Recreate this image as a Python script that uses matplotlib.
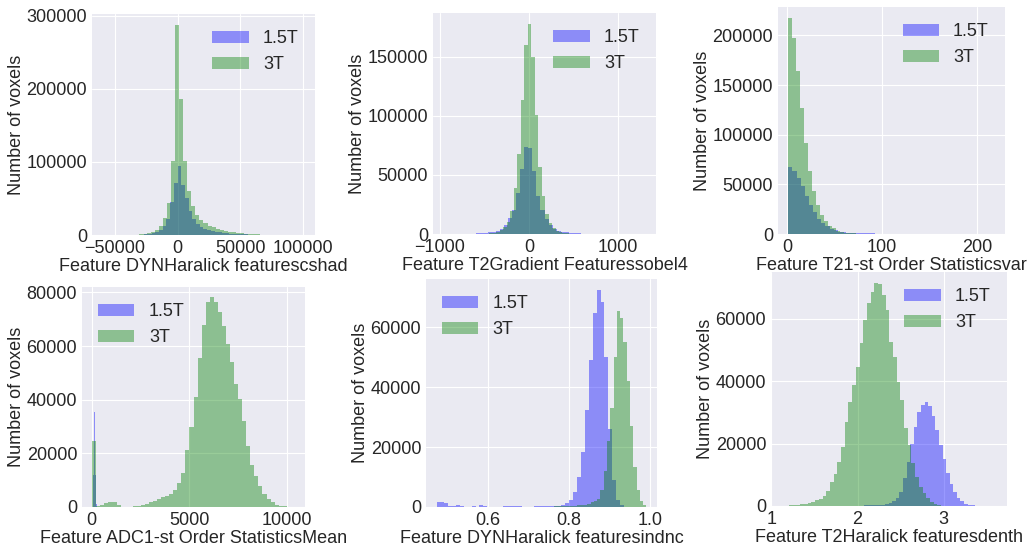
import matplotlib
matplotlib.use('Agg')
import matplotlib.pyplot as plt
import numpy as np

# Гистограммы признаков для 1.5T и 3T
series_labels = ['1.5T', '3T']

xlabels = ['Feature DYNHaralick featurescshad',
           'Feature T2Gradient Featuressobel4',
           'Feature T21-st Order Statisticsvar',
           'Feature ADC1-st Order StatisticsMean',
           'Feature DYNHaralick featuresindnc',
           'Feature T2Haralick featuresdenth']

# диапазоны значений (min, max) для каждой серии, 50 бинов
range_15 = [(-50000, 97000), (-962, 1310), (1.1, 218.9), (40, 300), (0.472, 0.955), (1.529, 3.609)]
range_3 = [(-60050, 101200), (-951, 999), (1.1, 211.1), (23, 10423), (0.585, 0.9913), (1.12, 3.27)]

cshad_15 = [100, 150, 200, 300, 400, 500, 500, 700, 1000, 1500, 2300, 3800, 6500, 12000, 22000, 45000, 70500, 94500, 68000, 50000,
            33000, 22000, 15000, 11000, 8500, 7000, 5800, 4800, 3900, 3100, 2500, 2000, 1600, 1300, 1000, 800, 600, 500, 400, 300,
            250, 200, 150, 120, 100, 80, 60, 50, 40, 30]
cshad_3 = [30, 50, 80, 120, 180, 250, 350, 500, 700, 1000, 1600, 2500, 4000, 6800, 12700, 22700, 43200, 101000, 288000, 185500,
           101000, 60400, 40000, 27300, 20500, 16000, 13000, 10500, 8500, 7000, 5800, 4700, 3800, 3000, 2400, 1900, 1500, 1200, 900, 700,
           500, 400, 300, 220, 160, 120, 90, 60, 40, 30]

sobel_15 = [5, 10, 15, 20, 30, 40, 60, 300, 450, 650, 900, 1300, 1900, 2800, 4200, 7600, 13500, 20500, 34600, 54900,
            73700, 72500, 53000, 32000, 20000, 12500, 7500, 4200, 2800, 1900, 1300, 900, 650, 450, 300, 200, 130, 90, 60, 40,
            30, 25, 20, 15, 12, 10, 8, 6, 4, 2]
sobel_3 = [5, 5, 10, 10, 15, 20, 30, 40, 60, 90, 130, 200, 350, 600, 1100, 2000, 3500, 6200, 10600, 19100,
           38800, 67800, 113400, 159900, 178200, 150000, 100800, 57100, 31800, 16900, 9300, 5000, 2800, 1600, 900, 500, 300, 180, 110, 70,
           45, 30, 20, 15, 10, 8, 6, 4, 3, 2]

var_15 = [67100, 63100, 56400, 48000, 38600, 29500, 21800, 15400, 11100, 7700, 5300, 3600, 2500, 1900, 1500, 1250, 1050, 900, 780, 680,
          590, 500, 420, 350, 280, 220, 170, 130, 100, 80, 60, 45, 35, 28, 22, 18, 14, 11, 9, 7,
          6, 5, 4, 3, 3, 2, 2, 1, 1, 1]
var_3 = [217700, 197600, 163900, 127000, 91700, 63800, 43600, 28800, 18800, 12700, 8300, 5600, 3500, 2200, 1400, 900, 600, 400, 250, 170,
         110, 70, 50, 35, 25, 20, 15, 12, 10, 8, 6, 5, 4, 3, 3, 2, 2, 2, 1, 1,
         1, 1, 1, 1, 1, 1, 1, 1, 1, 1]

mean_15 = [200, 400, 700, 1200, 2000, 3000, 4500, 6500, 9000, 12000, 15500, 19000, 22500, 26000, 29000, 31500, 33500, 35000, 35700, 35500,
           34500, 33000, 31000, 28500, 26000, 23000, 20000, 17000, 14500, 12000, 10000, 8000, 6500, 5000, 4000, 3000, 2300, 1700, 1300, 1000,
           700, 500, 400, 300, 200, 150, 100, 70, 50, 30]
mean_3 = [24500, 300, 800, 1600, 2000, 1900, 900, 150, 100, 150, 250, 500, 900, 1300, 1800, 2400, 3000, 3600, 4200, 5000,
          6500, 9000, 12700, 21400, 30000, 41000, 55700, 68000, 76500, 78100, 76300, 72500, 67500, 60900, 54200, 46000, 40100, 32000, 22700, 15800,
          11500, 7700, 4900, 3100, 1900, 900, 400, 200, 80, 30]

indnc_15 = [1800, 1700, 1300, 300, 200, 600, 400, 150, 100, 200, 150, 600, 300, 150, 100, 100, 150, 200, 250, 300,
            250, 200, 150, 100, 150, 200, 250, 300, 250, 300, 350, 400, 700, 1300, 2400, 5000, 10000, 18500, 32400, 49100,
            64700, 72400, 68500, 50000, 26000, 9000, 2400, 600, 150, 40]
indnc_3 = [20, 30, 20, 40, 30, 50, 40, 60, 50, 70, 60, 80, 70, 90, 80, 100, 110, 100, 120, 130,
           150, 140, 170, 190, 220, 260, 300, 350, 420, 500, 600, 800, 1100, 1500, 2000, 2800, 5500, 12000, 22000, 33000,
           50000, 65200, 63000, 55000, 42000, 27000, 13500, 5800, 1900, 500]

denth_15 = [1, 3, 5, 10, 15, 20, 30, 40, 50, 70, 90, 110, 140, 170, 200, 250, 300, 350, 450, 600,
            860, 1600, 2700, 4600, 8900, 14000, 20000, 25500, 30300, 32400, 33500, 32000, 29000, 24500, 19600, 15000, 10500, 7000, 4500, 2700,
            1500, 800, 450, 250, 150, 90, 50, 30, 15, 5]
denth_3 = [50, 100, 200, 300, 400, 600, 800, 900, 1400, 1800, 2200, 3300, 4800, 7600, 10200, 14200, 19000, 27100, 33500, 38800,
           44700, 52200, 59700, 65000, 68800, 71500, 71200, 67700, 62900, 52700, 47900, 39900, 34000, 24900, 19600, 13700, 9400, 6200, 4100, 2500,
           1400, 750, 300, 150, 80, 40, 20, 10, 5, 2]

counts_15 = [cshad_15, sobel_15, var_15, mean_15, indnc_15, denth_15]
counts_3 = [cshad_3, sobel_3, var_3, mean_3, indnc_3, denth_3]

xticks = [[-50000, 0, 50000, 100000], [-1000, 0, 1000], [0, 100, 200],
          [0, 5000, 10000], [0.6, 0.8, 1.0], [1, 2, 3]]
yticks = [[0, 100000, 200000, 300000], [0, 50000, 100000, 150000], [0, 50000, 100000, 150000, 200000],
          [0, 20000, 40000, 60000, 80000], [0, 20000, 40000, 60000], [0, 20000, 40000, 60000]]
legend_loc = ['upper right', 'upper right', 'upper right', 'upper left', 'upper left', 'upper right']

# положение осей (в долях фигуры), как на исходной картинке
positions = [[0.0891, 0.5727, 0.2161, 0.4018], [0.4196, 0.5745, 0.2161, 0.4018], [0.7539, 0.5745, 0.2200, 0.4127],
             [0.0795, 0.0782, 0.2161, 0.4000], [0.4128, 0.0782, 0.2238, 0.4145], [0.7471, 0.0800, 0.2287, 0.4255]]

plt.style.use('seaborn-v0_8-darkgrid')
plt.rcParams['font.family'] = ['Liberation Sans', 'DejaVu Sans']
plt.rcParams['font.size'] = 13
plt.rcParams['axes.labelsize'] = 13
plt.rcParams['xtick.labelsize'] = 13
plt.rcParams['ytick.labelsize'] = 13
plt.rcParams['legend.fontsize'] = 13

fig, axes = plt.subplots(2, 3, figsize=(10.32, 5.5), dpi=100)

for k, ax in enumerate(axes.flat):
    ax.set_position(positions[k])
    if k < 3:
        ax.set_zorder(2)  # подписи верхнего ряда поверх фона нижних осей
    e15 = np.linspace(range_15[k][0], range_15[k][1], len(counts_15[k]) + 1)
    e3 = np.linspace(range_3[k][0], range_3[k][1], len(counts_3[k]) + 1)
    ax.hist((e15[:-1] + e15[1:]) / 2, bins=e15, weights=counts_15[k], alpha=0.4, color='b', label=series_labels[0])
    ax.hist((e3[:-1] + e3[1:]) / 2, bins=e3, weights=counts_3[k], alpha=0.4, color='g', label=series_labels[1])
    ax.set_xticks(xticks[k])
    ax.set_yticks(yticks[k])
    ax.set_xlabel(xlabels[k], labelpad=1)
    ax.set_ylabel('Number of voxels', labelpad=1)
    ax.legend(loc=legend_loc[k])

plt.savefig('out.png', dpi=100)
